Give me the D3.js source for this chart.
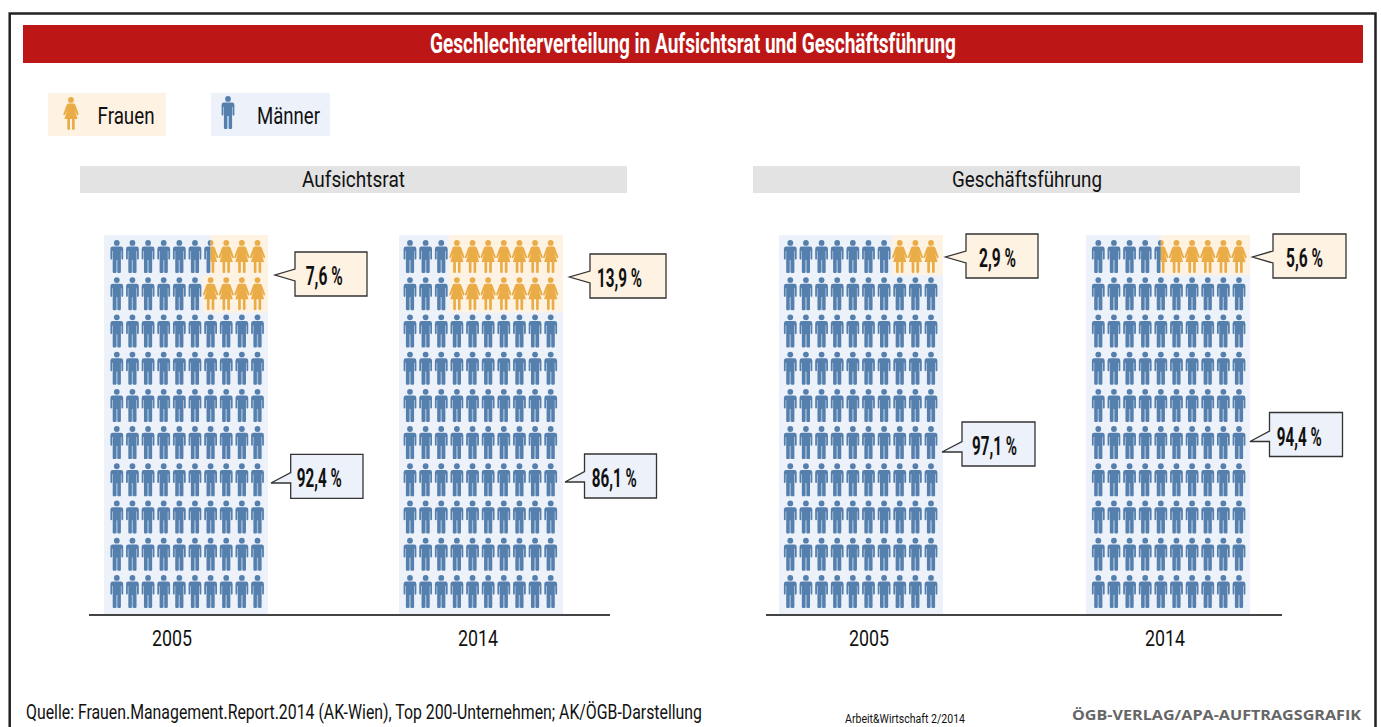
<!DOCTYPE html>
<html>
<head>
<meta charset="utf-8">
<script src="https://cdn.jsdelivr.net/npm/d3@7"></script>
<style>
  html, body { margin: 0; padding: 0; background: #fff; overflow: hidden; }
  text { font-family: "Liberation Sans Narrow", "Roboto", sans-serif; fill: #111; }
</style>
</head>
<body>
<svg id="chart" width="1381" height="727"></svg>
<script>
const chart_title = "Geschlechterverteilung in Aufsichtsrat und Geschäftsführung";
const legend_labels = ["Frauen", "Männer"];
const section_names = ["Aufsichtsrat", "Geschäftsführung"];
const panel_ids = ["a2005", "a2014", "g2005", "g2014"];
const panel_years = ["2005", "2014", "2005", "2014"];
const women_share = [7.6, 13.9, 2.9, 5.6];
const men_share = [92.4, 86.1, 97.1, 94.4];
// how many of the 10 icons in a row are women, top rows only
const women_icons_row1 = [3.5, 7, 3, 5.5];
const women_icons_row2 = [4, 7, 0, 0];
const source_text = "Quelle: Frauen.Management.Report.2014 (AK-Wien), Top 200-Unternehmen; AK/ÖGB-Darstellung";
const issue_text = "Arbeit&Wirtschaft 2/2014";
const credit_text = "ÖGB-VERLAG/APA-AUFTRAGSGRAFIK";

const man_color = "#5580ae", woman_color = "#eaac46";
const man_bg = "#edf1fa", woman_bg = "#fef2e3";

const man_path = "M-4 6.6H4Q6.4 6.6 6.4 9V18.6Q6.4 19.7 5.5 19.7Q4.6 19.7 4.6 18.6V11H4.1V31.8Q4.1 33 3 33H1.4Q.6 33 .6 31.8V20H-.6V31.8Q-.6 33-1.4 33H-3Q-4.1 33-4.1 31.8V11H-4.6V18.6Q-4.6 19.7-5.5 19.7Q-6.4 19.7-6.4 18.6V9Q-6.4 6.6-4 6.6Z";
const woman_path = "M-2.4 6.6H2.4Q3.8 6.6 4.4 8L7.5 16.6Q7.9 18 7 18.3Q6.2 18.5 5.8 17.6L3.6 12.4L6.6 22H3.7V31.9Q3.7 33 2.5 33Q1 33 1 31.9V22H-1V31.9Q-1 33-2.5 33Q-3.7 33-3.7 31.9V22H-6.6L-3.6 12.4L-5.8 17.6Q-6.2 18.5-7 18.3Q-7.9 18-7.5 16.6L-4.4 8Q-3.8 6.6-2.4 6.6Z";

const svg = d3.select("#chart");
const de = d3.formatLocale({decimal: ",", thousands: ".", grouping: [3], currency: ["", " €"]});
const fmt = v => de.format(".1f")(v) + " %";

// layout scales
const panel_left = d3.scaleOrdinal().domain(panel_ids).range([104, 399, 779, 1086]);
const icon_start = d3.scaleOrdinal().domain(panel_ids).range([116.8, 410, 790.3, 1098.3]);
const panel_width = 164;
const col_x = d3.scaleLinear().domain([0, 9]).range([0, 140.7]);
const row_y = d3.scaleLinear().domain([0, 9]).range([240, 575]);
const cell_w = col_x(1) - col_x(0);
const panel_top = 235, panel_bottom = 614;
const year_x = d3.scaleOrdinal().domain(panel_ids).range([172, 478, 869, 1165]);

// frame
svg.append("path").attr("d", "M9.7 727V13.5H1375.5V727").attr("fill", "none").attr("stroke", "#222").attr("stroke-width", 2.5);
svg.append("rect").attr("x", 23).attr("y", 25).attr("width", 1340).attr("height", 38).attr("fill", "#bc1716");

function put_text(sel, str, x, y, size, width, opts) {
  opts = opts || {};
  return sel.append("text")
    .attr("x", x).attr("y", y)
    .attr("font-size", size)
    .attr("font-weight", opts.weight || "normal")
    .attr("textLength", width)
    .attr("lengthAdjust", "spacingAndGlyphs")
    .style("fill", opts.fill || "#111")
    .style("font-family", opts.family || null)
    .text(str);
}

put_text(svg, chart_title, 430, 53, 28, 526, {weight: "bold", fill: "#fff"});

// legend
let legend = svg.append("g").attr("class", "legend");
legend.append("rect").attr("x", 48).attr("y", 93).attr("width", 118).attr("height", 43).attr("fill", woman_bg);
legend.append("rect").attr("x", 211).attr("y", 93).attr("width", 119).attr("height", 43).attr("fill", man_bg);
let draw_icon = function(g, d, color, x, y) {
  g.append("circle").attr("cx", x).attr("cy", y + 2.9).attr("r", 2.9).attr("fill", color);
  g.append("path").attr("d", d).attr("transform", "translate(" + x + "," + y + ")").attr("fill", color);
};
draw_icon(legend, woman_path, woman_color, 71, 97);
draw_icon(legend, man_path, man_color, 228, 96);
put_text(legend, legend_labels[0], 97.5, 124, 24, 57);
put_text(legend, legend_labels[1], 257, 124, 24, 63);

// section headers
const section_x = d3.scaleOrdinal().domain(section_names).range([80, 753]);
section_names.forEach(function(name) {
  svg.append("rect").attr("x", section_x(name)).attr("y", 166).attr("width", 547).attr("height", 27).attr("fill", "#e3e3e3");
});
put_text(svg, section_names[0], 302, 187, 22, 103);
put_text(svg, section_names[1], 952, 187, 22, 150);

// icon panels
panel_ids.forEach(function(id, p) {
  let left = panel_left(id);
  let right = left + panel_width;
  let icons_right = icon_start(id) + col_x(9) + cell_w / 2;
  let row_counts = [women_icons_row1[p], women_icons_row2[p]];
  let g = svg.append("g").attr("class", "panel");

  g.append("rect").attr("x", left).attr("y", panel_top).attr("width", panel_width).attr("height", panel_bottom - panel_top).attr("fill", man_bg);

  // one band per row, the woman part cut out of the man part
  let rows = d3.range(10).map(function(r) {
    let n = row_counts[r] || 0;
    return {
      row: r,
      n: n,
      top: r === 0 ? panel_top : row_y(r) - 2,
      bottom: r === 9 ? panel_bottom : row_y(r + 1) - 2,
      split: n > 0 ? icons_right - n * cell_w : right
    };
  });
  let woman_rows = rows.filter(d => d.n > 0);

  g.selectAll(".woman_bg").data(woman_rows).enter().append("rect").attr("class", "woman_bg")
    .attr("x", d => d.split)
    .attr("y", d => d.top)
    .attr("width", d => right - d.split)
    .attr("height", d => d.bottom - d.top)
    .attr("fill", woman_bg);

  let man_clip = svg.append("clipPath").attr("id", "man_clip_" + id);
  man_clip.selectAll("rect").data(rows).enter().append("rect")
    .attr("x", left).attr("y", d => d.top).attr("width", d => d.split - left).attr("height", d => d.bottom - d.top);
  let woman_clip = svg.append("clipPath").attr("id", "woman_clip_" + id);
  woman_clip.selectAll("rect").data(woman_rows).enter().append("rect")
    .attr("x", d => d.split).attr("y", d => d.top).attr("width", d => right - d.split).attr("height", d => d.bottom - d.top);

  let cells = d3.cross(d3.range(10), d3.range(10), (r, c) => ({row: r, col: c}));
  let man_g = g.append("g").attr("clip-path", "url(#man_clip_" + id + ")");
  let woman_g = g.append("g").attr("clip-path", "url(#woman_clip_" + id + ")");

  let add_icons = function(parent, data, d_path, color, gap) {
    let icon = parent.selectAll("g").data(data).enter().append("g")
      .attr("transform", d => "translate(" + (icon_start(id) + col_x(d.col)) + "," + row_y(d.row) + ")");
    icon.append("circle").attr("cy", 2.9).attr("r", 2.9).attr("fill", color);
    icon.append("path").attr("d", d_path).attr("fill", color);
    // the pale slit between the legs
    if (gap) icon.append("rect").attr("x", -0.7).attr("y", 20).attr("width", 1.4).attr("height", 12.5).attr("fill", color).attr("fill-opacity", 0.5);
  };
  add_icons(man_g, cells, man_path, man_color, true);
  add_icons(woman_g, cells.filter(d => d.col >= 10 - Math.ceil(row_counts[d.row] || 0)), woman_path, woman_color, false);

  put_text(svg, panel_years[p], year_x(id) - 20, 646, 22, 40);
});

// axis lines
[[89, 610], [766, 1282]].forEach(function(d) {
  svg.append("line").attr("x1", d[0]).attr("x2", d[1]).attr("y1", 615).attr("y2", 615).attr("stroke", "#444").attr("stroke-width", 2);
});

// callouts: box x, y, w, h, pointer tip x, y, label x
const callout_women = [[295, 252, 72, 44, 275, 275, 305.7], [590, 254, 76, 44, 569.5, 277, 597], [966, 234, 72, 44, 945.5, 257, 979], [1273, 234, 73, 44, 1252.5, 257, 1286]];
const callout_men = [[290.7, 454.3, 72.3, 44, 271, 483, 296.7], [584.5, 454, 72, 44, 565, 482, 591.7], [962, 422, 73, 44, 942, 452, 972], [1269.5, 412.5, 73, 44, 1250, 441.5, 1276.7]];

let draw_callout = function(c, value, fill, pointer) {
  let [x, y, w, h, tx, ty, lx] = c;
  let p = pointer === "mid" ? [ty - 6, ty + 6] : [ty - 10.5, ty];
  let d = "M" + x + " " + y + "H" + (x + w) + "V" + (y + h) + "H" + x + "V" + p[1] + "L" + tx + " " + ty + "L" + x + " " + p[0] + "Z";
  svg.append("path").attr("d", d).attr("fill", fill).attr("stroke", "#333").attr("stroke-width", 1.3);
  let width = value >= 10 ? 45 : 37;
  put_text(svg, fmt(value), lx, y + 33, 25.5, width, {weight: "bold"});
};
women_share.forEach((v, i) => draw_callout(callout_women[i], v, woman_bg, "mid"));
men_share.forEach((v, i) => draw_callout(callout_men[i], v, man_bg, "up"));

// footer
put_text(svg, source_text, 26, 719, 19.5, 676);
put_text(svg, issue_text, 845, 723, 12, 120);
put_text(svg, credit_text, 1072, 720, 15, 289, {weight: "bold", fill: "#666", family: "'Open Sans', sans-serif"});
</script>
</body>
</html>
